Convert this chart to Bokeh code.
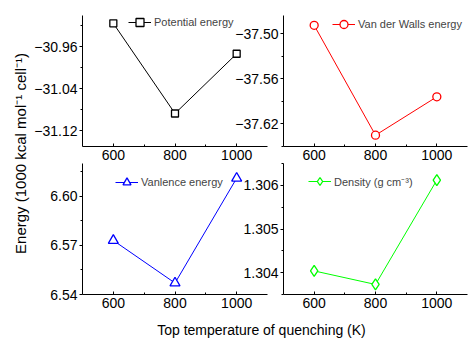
from math import pi
from bokeh.plotting import figure
from bokeh.models import (Range1d, LinearAxis, FixedTicker, PrintfTickFormatter,
                          CustomJSTickFormatter, Label, Legend, LegendItem)
from bokeh.embed import file_html
from bokeh.resources import INLINE

# ---- data ----
temps = [600, 800, 1000]
potential_energy = [-30.915, -31.087, -30.973]
vdw_energy = [-37.489, -37.635, -37.584]
valence_energy = [6.573, 6.547, 6.611]
density = [1.30404, 1.30373, 1.30612]

x_ticks = [600, 800, 1000]
x_minor = [700, 900]
pot_ticks = [-31.12, -31.04, -30.96]
vdw_ticks = [-37.62, -37.56, -37.50]
val_ticks = [6.54, 6.57, 6.60]
den_ticks = [1.304, 1.305, 1.306]

x_title = "Top temperature of quenching (K)"
y_title = "Energy (1000 kcal mol\u207b\u00b9 cell\u207b\u00b9)"

FONT = "Liberation Sans"
W, H = 468, 338
X0, X1, Y0, Y1 = 0, W, 0, H   # page coords of the frame

p = figure(width=W, height=H, x_axis_type=None, y_axis_type=None,
           x_range=Range1d(X0, X1), y_range=Range1d(Y1, Y0),
           toolbar_location=None, output_backend="svg", min_border=0,
           outline_line_color=None, background_fill_color="white",
           border_fill_color="white")


def xr(L, R, a0, a1):
    s = (a1 - a0) / (R - L)
    return Range1d(start=a0 - (L - X0) * s, end=a0 + (X1 - L) * s)


def yr(T, B, a0, a1):
    s = (a1 - a0) / (B - T)
    return Range1d(start=a0 - (Y1 - B) * s, end=a1 + (T - Y0) * s)


def minus_fmt(digits):
    return CustomJSTickFormatter(
        code="return tick.toFixed(%d).replace('-', '\\u2212');" % digits)


GH = 20  # legend glyph height

panels = [
    dict(n="tl", box=(82, 267, 15, 146), xl=(500, 1100), yl=(-31.15, -30.90),
         ys=potential_energy, yt=pot_ticks, dig=2, color="black",
         marker="square", size=7, label="Potential energy", leg=(128, 22)),
    dict(n="tr", box=(283, 467, 15, 146), xl=(500, 1100), yl=(-37.65, -37.476),
         ys=vdw_energy, yt=vdw_ticks, dig=2, color="#ff0000",
         marker="circle", size=8, label="Van der Walls energy", leg=(332, 24)),
    dict(n="bl", box=(82, 267, 163, 294), xl=(500, 1100), yl=(6.54, 6.62),
         ys=valence_energy, yt=val_ticks, dig=2, color="#0000ff",
         marker="triangle", size=10, label="Vanlence energy", leg=(115, 182)),
    dict(n="br", box=(283, 467, 163, 294), xl=(500, 1100), yl=(1.3035, 1.3065),
         ys=density, yt=den_ticks, dig=3, color="#00ff00",
         marker="diamond", size=11, label="Density (g cm\u207b\u00b3)", leg=(308, 181)),
]

for pn in panels:
    L, R, T, B = pn["box"]
    xn, yn = "x" + pn["n"], "y" + pn["n"]
    p.extra_x_ranges[xn] = xr(L, R, *pn["xl"])
    p.extra_y_ranges[yn] = yr(T, B, *pn["yl"])

    yt = pn["yt"]
    step = yt[1] - yt[0]
    yminor = [t + step / 2 for t in [yt[0] - step] + yt]
    yminor = [round(v, 6) for v in yminor if pn["yl"][0] <= v <= pn["yl"][1]]

    xa = LinearAxis(x_range_name=xn, y_range_name=yn, fixed_location=pn["yl"][0],
                    bounds=pn["xl"],
                    ticker=FixedTicker(ticks=x_ticks, minor_ticks=x_minor),
                    formatter=PrintfTickFormatter(format="%d"),
                    major_tick_in=3, major_tick_out=0,
                    minor_tick_in=2, minor_tick_out=0,
                    major_label_standoff=3,
                    major_label_text_font=FONT, major_label_text_font_size="14px",
                    major_label_text_color="black",
                    axis_line_color="black", major_tick_line_color="black",
                    minor_tick_line_color="black")
    p.add_layout(xa, "below")
    ya = LinearAxis(x_range_name=xn, y_range_name=yn, fixed_location=pn["xl"][0],
                    bounds=pn["yl"],
                    ticker=FixedTicker(ticks=yt, minor_ticks=yminor),
                    formatter=minus_fmt(pn["dig"]),
                    major_tick_in=0, major_tick_out=3,
                    minor_tick_in=0, minor_tick_out=2,
                    major_label_standoff=2,
                    major_label_text_font=FONT, major_label_text_font_size="14px",
                    major_label_text_color="black",
                    axis_line_color="black", major_tick_line_color="black",
                    minor_tick_line_color="black")
    p.add_layout(ya, "left")

    lr = p.line(temps, pn["ys"], x_range_name=xn, y_range_name=yn,
                line_color=pn["color"], line_width=1)
    sr = p.scatter(temps, pn["ys"], x_range_name=xn, y_range_name=yn,
                   marker=pn["marker"], size=pn["size"], line_color=pn["color"],
                   line_width=1.3, fill_color="white")
    lx, lcy = pn["leg"]
    leg = Legend(items=[LegendItem(label=pn["label"], renderers=[lr, sr])],
                 location=(lx - X0, Y1 - (lcy + GH / 2)),
                 label_text_font=FONT, label_text_font_size="11px",
                 glyph_width=23, glyph_height=GH, label_height=GH,
                 label_standoff=3, padding=0, margin=0, spacing=0,
                 border_line_color=None, background_fill_alpha=0)
    p.add_layout(leg, "center")

p.add_layout(Label(x=261, y=329, text=x_title, text_align="center",
                   text_baseline="middle", text_font=FONT,
                   text_font_size="14px", text_color="black"))
p.add_layout(Label(x=20, y=153, text=y_title, angle=pi / 2, text_align="center",
                   text_baseline="middle", text_font=FONT,
                   text_font_size="15px", text_color="black"))

open("out.html", "w").write(file_html(p, INLINE))
